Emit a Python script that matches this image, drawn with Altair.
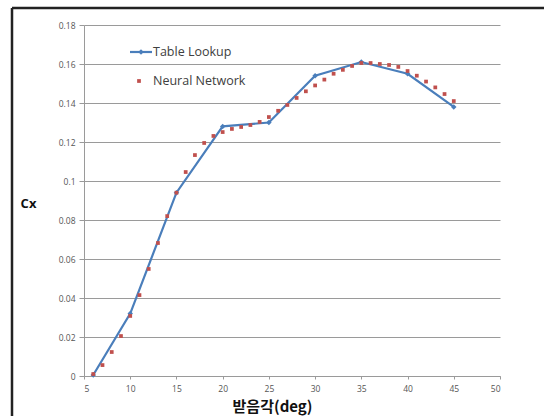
import altair as alt
import pandas as pd

# Table Lookup series
tl_angle = [6, 10, 15, 20, 25, 30, 35, 40, 45]
tl_cx = [0.0005, 0.032, 0.094, 0.128, 0.130, 0.154, 0.161, 0.155, 0.138]

# Neural Network series
nn_angle = [6, 7, 8, 9, 10, 11, 12, 13, 14, 15,
            16, 17, 18, 19, 20, 21, 22, 23, 24, 25,
            26, 27, 28, 29, 30, 31, 32, 33, 34, 35,
            36, 37, 38, 39, 40, 41, 42, 43, 44, 45]
nn_cx = [0.001, 0.0056, 0.0123, 0.0205, 0.0308, 0.0415, 0.0549, 0.0682, 0.082, 0.094,
         0.1046, 0.1133, 0.1195, 0.1231, 0.1251, 0.1267, 0.1277, 0.1287, 0.1303, 0.1328,
         0.136, 0.139, 0.1426, 0.146, 0.149, 0.152, 0.155, 0.157, 0.159, 0.1605,
         0.1605, 0.160, 0.1595, 0.1585, 0.1564, 0.154, 0.151, 0.148, 0.1446, 0.141]

x_ticks = [5, 10, 15, 20, 25, 30, 35, 40, 45, 50]
y_ticks = [0, 0.02, 0.04, 0.06, 0.08, 0.1, 0.12, 0.14, 0.16, 0.18]
legend_labels = ["Table Lookup", "Neural Network"]

BLUE = "#4A7EBB"
RED = "#C0504D"
FONT = "Open Sans"

tl_df = pd.DataFrame({"angle": tl_angle, "cx": tl_cx})
nn_df = pd.DataFrame({"angle": nn_angle, "cx": nn_cx})
one = pd.DataFrame({"k": [0]})

x_axis = alt.Axis(values=x_ticks, grid=False, tickSize=3, labelPadding=5,
                  labelOverlap=False,
                  title="받음각(deg)", titleFont="Noto Sans CJK KR",
                  titleFontSize=15, titleFontWeight="bold", titleColor="#111111",
                  titleX=188, titleY=30,
                  titleAlign="center", titleBaseline="middle")
y_axis = alt.Axis(values=y_ticks, format="~g", grid=True, tickSize=5, tickCount=10,
                  labelPadding=4, labelOverlap=False, title="Cx", titleAngle=0,
                  titleFontSize=13, titleFontWeight="bold", titleColor="#111111",
                  titleX=-56, titleY=178, titleAlign="center",
                  titleBaseline="middle")
x_scale = alt.Scale(domain=[5, 50], nice=False, zero=False)
y_scale = alt.Scale(domain=[0, 0.18], nice=False)


def xe():
    return alt.X("angle:Q", scale=x_scale, axis=x_axis)


def ye():
    return alt.Y("cx:Q", scale=y_scale, axis=y_axis)


line = alt.Chart(tl_df).mark_line(color=BLUE, strokeWidth=2.2).encode(x=xe(), y=ye())
diamonds = alt.Chart(tl_df).mark_point(shape="diamond", filled=True, color=BLUE,
                                        size=30, opacity=1).encode(x=xe(), y=ye())
dots = alt.Chart(nn_df).mark_point(shape="square", filled=True, color=RED,
                                    size=14, opacity=1).encode(x=xe(), y=ye())

# legend (drawn in pixel space of plot area)
leg_line = alt.Chart(one).mark_rule(color=BLUE, strokeWidth=2.2).encode(
    x=alt.value(46), x2=alt.value(68), y=alt.value(27))
leg_diamond = alt.Chart(one).mark_point(shape="diamond", filled=True, color=BLUE,
                                         size=30, opacity=1).encode(
    x=alt.value(57), y=alt.value(27))
leg_square = alt.Chart(one).mark_point(shape="square", filled=True, color=RED,
                                        size=14, opacity=1).encode(
    x=alt.value(55), y=alt.value(56))
leg_text1 = alt.Chart(one).mark_text(text=legend_labels[0], align="left", baseline="middle",
                                      font=FONT, fontSize=12.5, color="#404040").encode(
    x=alt.value(69), y=alt.value(27))
leg_text2 = alt.Chart(one).mark_text(text=legend_labels[1], align="left", baseline="middle",
                                      font=FONT, fontSize=12.5, color="#404040").encode(
    x=alt.value(69), y=alt.value(56))

# picture frame (outer border lines)
frame_top = alt.Chart(one).mark_rule(color="#222222", strokeWidth=2.5).encode(
    x=alt.value(-72), x2=alt.value(460), y=alt.value(-17))
frame_left = alt.Chart(one).mark_rule(color="#222222", strokeWidth=2.5).encode(
    x=alt.value(-72), y=alt.value(-17), y2=alt.value(391))

chart = alt.layer(
    line, diamonds, dots,
    leg_line, leg_diamond, leg_square, leg_text1, leg_text2,
    frame_top, frame_left
).properties(
    width=416, height=351,
    autosize=alt.AutoSizeParams(type="none"),
    padding={"left": 84, "top": 25, "right": 44, "bottom": 40},
    background="white"
).configure_view(
    stroke=None
).configure_axis(
    labelFont=FONT, labelFontSize=8.5, labelColor="#555555",
    titleFont=FONT,
    domainColor="#9a9a9a", tickColor="#9a9a9a", gridColor="#9a9a9a",
    domainWidth=1, tickWidth=1, gridWidth=1
)

chart.save("out.html", embed_options={"renderer": "svg", "actions": False})
